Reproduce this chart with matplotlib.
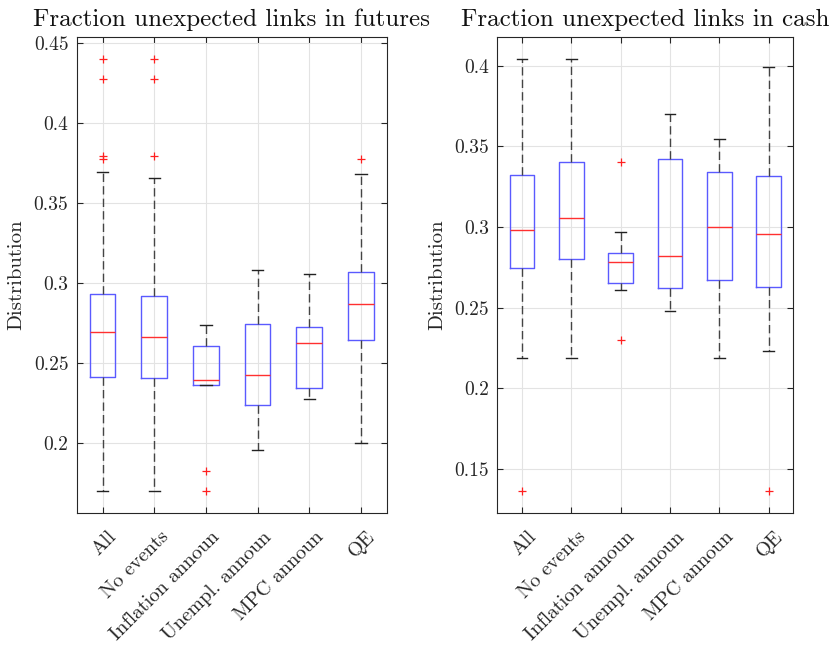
import matplotlib
matplotlib.use("Agg")
import matplotlib.pyplot as plt
import matplotlib.transforms as mtransforms

plt.rcParams['font.family'] = ['cmr10', 'DejaVu Serif']
plt.rcParams['axes.formatter.use_mathtext'] = True
plt.rcParams['mathtext.fontset'] = 'cm'

categories = ["All", "No events", "Inflation announ", "Unempl. announ", "MPC announ", "QE"]

# Futures panel
fut_q1 = [0.2414, 0.2408, 0.2366, 0.2237, 0.2346, 0.2644]
fut_med = [0.2698, 0.2666, 0.2398, 0.2425, 0.2627, 0.2871]
fut_q3 = [0.2931, 0.2921, 0.2606, 0.2746, 0.2725, 0.3073]
fut_lo = [0.1700, 0.1700, 0.2366, 0.1956, 0.2277, 0.2002]
fut_hi = [0.3694, 0.3656, 0.2739, 0.3083, 0.3058, 0.3683]
fut_fliers = [[0.4400, 0.4277, 0.3798, 0.3777],
              [0.4400, 0.4277, 0.3798],
              [0.1829, 0.1700],
              [], [],
              [0.3775]]

# Cash panel
cash_q1 = [0.2744, 0.2804, 0.2655, 0.2620, 0.2671, 0.2626]
cash_med = [0.2981, 0.3054, 0.2783, 0.2822, 0.3002, 0.2959]
cash_q3 = [0.3322, 0.3401, 0.2839, 0.3419, 0.3341, 0.3314]
cash_lo = [0.2186, 0.2186, 0.2610, 0.2479, 0.2186, 0.2231]
cash_hi = [0.4041, 0.4041, 0.2971, 0.3698, 0.3545, 0.3990]
cash_fliers = [[0.1362], [], [0.3401, 0.2298], [], [], [0.1362]]


def make_stats(q1, med, q3, lo, hi, fl):
    return [dict(q1=a, med=b, q3=c, whislo=d, whishi=e, fliers=f)
            for a, b, c, d, e, f in zip(q1, med, q3, lo, hi, fl)]


fig = plt.figure(figsize=(8.32, 6.48), dpi=100)
ax1 = fig.add_axes([0.0922, 0.2088, 0.3726, 0.7336])
ax2 = fig.add_axes([0.5977, 0.2088, 0.3558, 0.7336])

panels = [
    (ax1, make_stats(fut_q1, fut_med, fut_q3, fut_lo, fut_hi, fut_fliers),
     "Fraction unexpected links in futures", (0.1566, 0.4537),
     [0.2, 0.25, 0.3, 0.35, 0.4, 0.45]),
    (ax2, make_stats(cash_q1, cash_med, cash_q3, cash_lo, cash_hi, cash_fliers),
     "Fraction unexpected links in cash", (0.1229, 0.4176),
     [0.15, 0.2, 0.25, 0.3, 0.35, 0.4]),
]

offset = mtransforms.ScaledTranslation(0.05, -0.04, fig.dpi_scale_trans)

for ax, stats, title, ylim, yt in panels:
    ax.set_axisbelow(True)
    ax.grid(True, color='#e3e3e3', linewidth=0.8)
    ax.bxp(stats, positions=range(1, len(categories) + 1), widths=0.5,
           capwidths=0.22, showfliers=True, patch_artist=False,
           boxprops=dict(color='#5a5aff', linewidth=1.0),
           medianprops=dict(color='#ff3030', linewidth=1.0),
           whiskerprops=dict(color='#444444', linewidth=1.0, linestyle=(0, (6, 3))),
           capprops=dict(color='#222222', linewidth=1.0),
           flierprops=dict(marker='+', markeredgecolor='#ff2020', markersize=6,
                           markeredgewidth=0.9, linestyle='none'))
    ax.set_xlim(0.5, 6.5)
    ax.set_ylim(*ylim)
    ax.set_yticks(yt)
    ax.set_yticklabels([f"{v:g}" for v in yt])
    ax.set_xticks(range(1, len(categories) + 1))
    ax.set_xticklabels(categories, rotation=45, ha='right', va='top',
                       rotation_mode='anchor')
    ax.tick_params(direction='in', top=True, right=True, length=4, width=0.8,
                   colors='#262626', labelsize=14, labelcolor='#262626', pad=6)
    ax.tick_params(axis='x', pad=8, labelsize=14.5)
    for lbl in ax.get_xticklabels():
        lbl.set_transform(lbl.get_transform() + offset)
    for s in ax.spines.values():
        s.set_color('#262626')
        s.set_linewidth(0.8)
    ax.set_title(title, fontsize=18, color='#111111', pad=8)
    ax.set_ylabel("Distribution", fontsize=15, color='#262626', labelpad=6)

fig.savefig("out.png", dpi=100)
